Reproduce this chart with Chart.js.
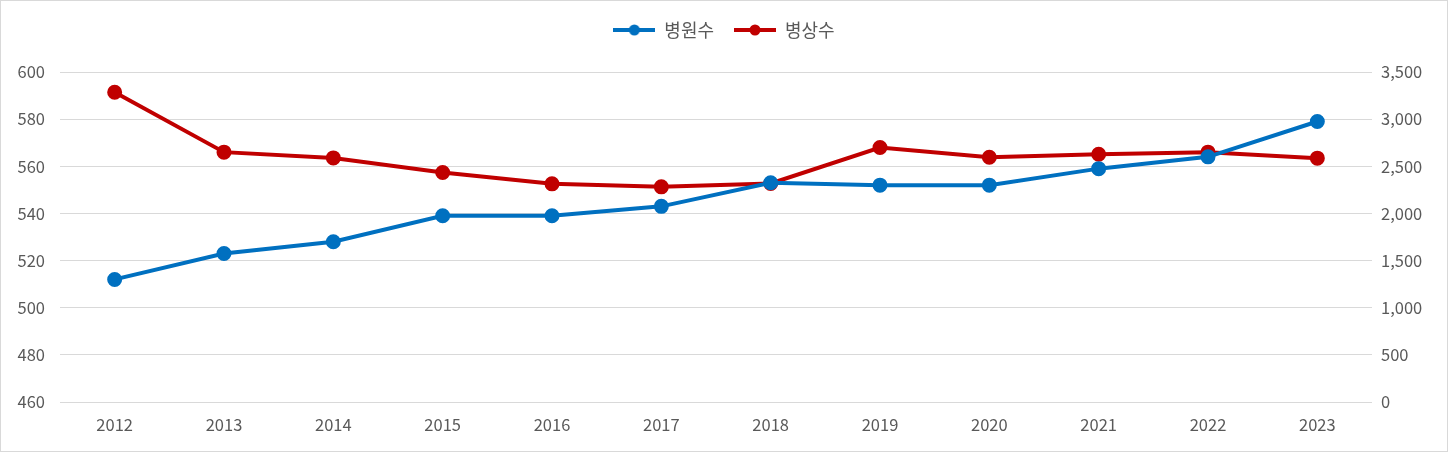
<!DOCTYPE html>
<html><head><meta charset="utf-8">
<script src="https://cdn.jsdelivr.net/npm/chart.js@4"></script>
<style>
html,body{margin:0;padding:0;background:#fff;}
#wrap{width:1448px;height:452px;box-sizing:border-box;border:1px solid #d9d9d9;position:relative;}
canvas{display:block;}
</style></head>
<body><div id="wrap"><canvas id="c" width="1446" height="450"></canvas></div>
<script>
const years = ['2012','2013','2014','2015','2016','2017','2018','2019','2020','2021','2022','2023'];
const hospitals = [512,523,528,539,539,543,553,552,552,559,564,579];
const beds = [3285,2650,2589,2434,2314,2282,2318,2699,2596,2628,2650,2586];
const hospLabel = '병원수';
const bedLabel = '병상수';
const blue = '#0070C0';
const red = '#C00000';
const FONT = "'Noto Sans CJK KR','Noto Sans',sans-serif";

function legendIcon(color){
  const c = document.createElement('canvas');
  c.width = 42; c.height = 12;
  const g = c.getContext('2d');
  g.strokeStyle = color; g.lineWidth = 4;
  g.beginPath(); g.moveTo(0,6); g.lineTo(42,6); g.stroke();
  g.fillStyle = color; g.beginPath(); g.arc(21,6,5.5,0,Math.PI*2); g.fill();
  return c;
}
const icons = [legendIcon(blue), legendIcon(red)];

new Chart(document.getElementById('c'), {
  type: 'line',
  data: {
    labels: years,
    datasets: [
      {label: hospLabel, data: hospitals, yAxisID: 'y', borderColor: blue, backgroundColor: blue,
       borderWidth: 4, pointRadius: 5.5, pointHoverRadius: 5.5, pointStyle: 'circle', tension: 0},
      {label: bedLabel, data: beds, yAxisID: 'y1', borderColor: red, backgroundColor: red,
       borderWidth: 4, pointRadius: 5.5, pointHoverRadius: 5.5, pointStyle: 'circle', tension: 0}
    ]
  },
  options: {
    responsive: false,
    animation: false,
    layout: {padding: {top: 0, left: 0, right: 0, bottom: 0}},
    plugins: {
      tooltip: {enabled: false},
      legend: {
        position: 'top',
        labels: {
          usePointStyle: true, pointStyleWidth: 42,
          font: {family: FONT, size: 18}, color: '#595959', padding: 20,
          generateLabels: chart => chart.data.datasets.map((ds, i) => ({
            text: ds.label, pointStyle: icons[i], fillStyle: ds.borderColor,
            strokeStyle: ds.borderColor, lineWidth: 0, hidden: false, datasetIndex: i,
            fontColor: '#595959'
          }))
        }
      }
    },
    scales: {
      x: {
        offset: true,
        grid: {display: false, drawTicks: false},
        border: {display: false},
        ticks: {font: {family: FONT, size: 16.5}, color: '#595959', padding: 13},
        afterFit: s => { s.height = 49; }
      },
      y: {
        position: 'left', min: 460, max: 600,
        grid: {color: '#d9d9d9', drawTicks: false, lineWidth: 1},
        border: {display: false},
        ticks: {stepSize: 20, font: {family: FONT, size: 16.5}, color: '#595959', padding: 15},
        afterFit: s => { s.width = 59; }
      },
      y1: {
        position: 'right', min: 0, max: 3500,
        grid: {display: false, drawTicks: false},
        border: {display: false},
        ticks: {stepSize: 500, font: {family: FONT, size: 16.5}, color: '#595959', padding: 9,
          callback: v => v.toLocaleString('en-US')},
        afterFit: s => { s.width = 75; }
      }
    }
  },
  plugins: [{
    id: 'legendGap',
    afterInit(chart){
      const lg = chart.legend;
      if (!lg) return;
      const f = lg.fit;
      lg.fit = function(){ f.call(this); this.height += 23; };
    }
  }]
});
</script></body></html>
